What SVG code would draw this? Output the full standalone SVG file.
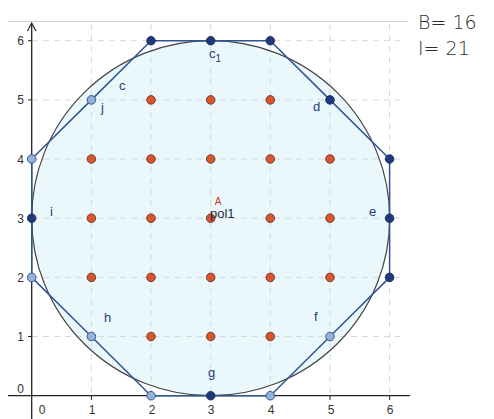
<svg xmlns="http://www.w3.org/2000/svg" width="494" height="419" viewBox="0 0 494 419">
<style>
.grid{stroke:#d3dade;stroke-width:1;stroke-dasharray:6 5;fill:none}
.axis{stroke:#222;stroke-width:1.3;fill:none}
.tick{font-family:"Liberation Sans",Arial,sans-serif;font-size:12px;fill:#333}
.lbl{font-family:"Liberation Sans",Arial,sans-serif;font-size:13px;fill:#1f3a7a}
.hand{font-family:"DejaVu Sans",sans-serif;font-size:19px;fill:#2e2e2e;font-weight:200}
.pt-in{fill:#d8552e;stroke:#5a2a1a;stroke-width:0.8}
.pt-dk{fill:#1f3a7a;stroke:#14254f;stroke-width:0.8}
.pt-lt{fill:#93b3de;stroke:#2c4a80;stroke-width:0.9}
</style>
<rect width="494" height="419" fill="#ffffff"/>
<line x1="8" y1="21.5" x2="408" y2="21.5" stroke="#d4d4d4" stroke-width="1"/>
<g id="disk">
<ellipse cx="210.7" cy="218.2" rx="179" ry="177.5" fill="#eaf8fc" stroke="none"/>
</g>
<g id="grid">
<path class="grid" d="M91.4 24V396M151 24V396M210.7 24V396M270.3 24V396M330 24V396M389.6 24V396M32 336.5H400M32 277.4H400M32 218.2H400M32 159H400M32 99.9H400M32 40.7H400"/>
</g>
<g id="axes">
<line class="axis" x1="31.7" y1="419" x2="31.7" y2="24"/>
<path d="M27.5 31 L31.7 23 L35.9 31" fill="none" stroke="#222" stroke-width="1.2"/>
<line class="axis" x1="8" y1="395.7" x2="410" y2="395.7"/>
<path d="M28 336.5H31.7M28 277.4H31.7M28 218.2H31.7M28 159H31.7M28 99.9H31.7M28 40.7H31.7M91.4 395.7V400M151 395.7V400M210.7 395.7V400M270.3 395.7V400M330 395.7V400M389.6 395.7V400" stroke="#222" stroke-width="1"/>
<text class="tick" x="42" y="414" text-anchor="middle">0</text>
<text class="tick" x="92" y="414" text-anchor="middle">1</text>
<text class="tick" x="152" y="414" text-anchor="middle">2</text>
<text class="tick" x="211" y="414" text-anchor="middle">3</text>
<text class="tick" x="271" y="414" text-anchor="middle">4</text>
<text class="tick" x="331" y="414" text-anchor="middle">5</text>
<text class="tick" x="390" y="414" text-anchor="middle">6</text>
<text class="tick" x="24" y="393" text-anchor="end">0</text>
<text class="tick" x="24" y="341" text-anchor="end">1</text>
<text class="tick" x="24" y="282" text-anchor="end">2</text>
<text class="tick" x="24" y="222.5" text-anchor="end">3</text>
<text class="tick" x="24" y="163.5" text-anchor="end">4</text>
<text class="tick" x="24" y="104" text-anchor="end">5</text>
<text class="tick" x="24" y="45" text-anchor="end">6</text>
</g>
<g id="circle">
<ellipse cx="210.7" cy="218.2" rx="179" ry="177.5" fill="none" stroke="#444" stroke-width="1.2"/>
</g>
<g id="connectors">
<polygon id="pol1" points="151,40.7 210.7,40.7 270.3,40.7 330,99.9 389.6,159 389.6,218.2 389.6,277.4 330,336.5 270.3,395.7 210.7,395.7 151,395.7 91.4,336.5 31.7,277.4 31.7,218.2 31.7,159 91.4,99.9" fill="none" stroke="#2f5595" stroke-width="1.5" stroke-linejoin="round"/>
</g>
<g id="interior">
<circle class="pt-in" cx="151" cy="99.9" r="4.3"/><circle class="pt-in" cx="210.7" cy="99.9" r="4.3"/><circle class="pt-in" cx="270.3" cy="99.9" r="4.3"/>
<circle class="pt-in" cx="91.4" cy="159" r="4.3"/><circle class="pt-in" cx="151" cy="159" r="4.3"/><circle class="pt-in" cx="210.7" cy="159" r="4.3"/><circle class="pt-in" cx="270.3" cy="159" r="4.3"/><circle class="pt-in" cx="330" cy="159" r="4.3"/>
<circle class="pt-in" cx="91.4" cy="218.2" r="4.3"/><circle class="pt-in" cx="151" cy="218.2" r="4.3"/><circle class="pt-in" cx="210.7" cy="218.2" r="4.3"/><circle class="pt-in" cx="270.3" cy="218.2" r="4.3"/><circle class="pt-in" cx="330" cy="218.2" r="4.3"/>
<circle class="pt-in" cx="91.4" cy="277.4" r="4.3"/><circle class="pt-in" cx="151" cy="277.4" r="4.3"/><circle class="pt-in" cx="210.7" cy="277.4" r="4.3"/><circle class="pt-in" cx="270.3" cy="277.4" r="4.3"/><circle class="pt-in" cx="330" cy="277.4" r="4.3"/>
<circle class="pt-in" cx="151" cy="336.5" r="4.3"/><circle class="pt-in" cx="210.7" cy="336.5" r="4.3"/><circle class="pt-in" cx="270.3" cy="336.5" r="4.3"/>
</g>
<g id="boundary">
<circle class="pt-dk" cx="151" cy="40.7" r="4.3"/>
<circle class="pt-dk" cx="210.7" cy="40.7" r="4.3"/>
<circle class="pt-dk" cx="270.3" cy="40.7" r="4.3"/>
<circle class="pt-dk" cx="330" cy="99.9" r="4.3"/>
<circle class="pt-dk" cx="389.6" cy="159" r="4.3"/>
<circle class="pt-dk" cx="389.6" cy="218.2" r="4.3"/>
<circle class="pt-dk" cx="389.6" cy="277.4" r="4.3"/>
<circle class="pt-lt" cx="330" cy="336.5" r="4.3"/>
<circle class="pt-lt" cx="270.3" cy="395.7" r="4.3"/>
<circle class="pt-dk" cx="210.7" cy="395.7" r="4.3"/>
<circle class="pt-lt" cx="151" cy="395.7" r="4.3"/>
<circle class="pt-lt" cx="91.4" cy="336.5" r="4.3"/>
<circle class="pt-lt" cx="31.7" cy="277.4" r="4.3"/>
<circle class="pt-dk" cx="31.7" cy="218.2" r="4.3"/>
<circle class="pt-lt" cx="31.7" cy="159" r="4.3"/>
<circle class="pt-lt" cx="91.4" cy="99.9" r="4.3"/>
</g>
<g id="labels">
<text class="lbl" x="119" y="90">c</text>
<text class="lbl" x="209" y="58">c<tspan font-size="10" dy="4">1</tspan></text>
<text class="lbl" x="101" y="112">j</text>
<text class="lbl" x="313" y="111">d</text>
<text class="lbl" x="369" y="216">e</text>
<text class="lbl" x="50" y="216">i</text>
<text class="lbl" x="104" y="322">h</text>
<text class="lbl" x="208" y="377">g</text>
<text class="lbl" x="314" y="321">f</text>
<text x="218" y="205" text-anchor="middle" font-family="Liberation Sans,Arial,sans-serif" font-size="10" fill="#c0392b">A</text>
<text class="lbl" x="210" y="218" style="fill:#2a2a40">pol1</text>
</g>
<g id="notes">
<text class="hand" x="418" y="29">B= 16</text>
<text class="hand" x="418" y="55">I= 21</text>
</g>
</svg>
